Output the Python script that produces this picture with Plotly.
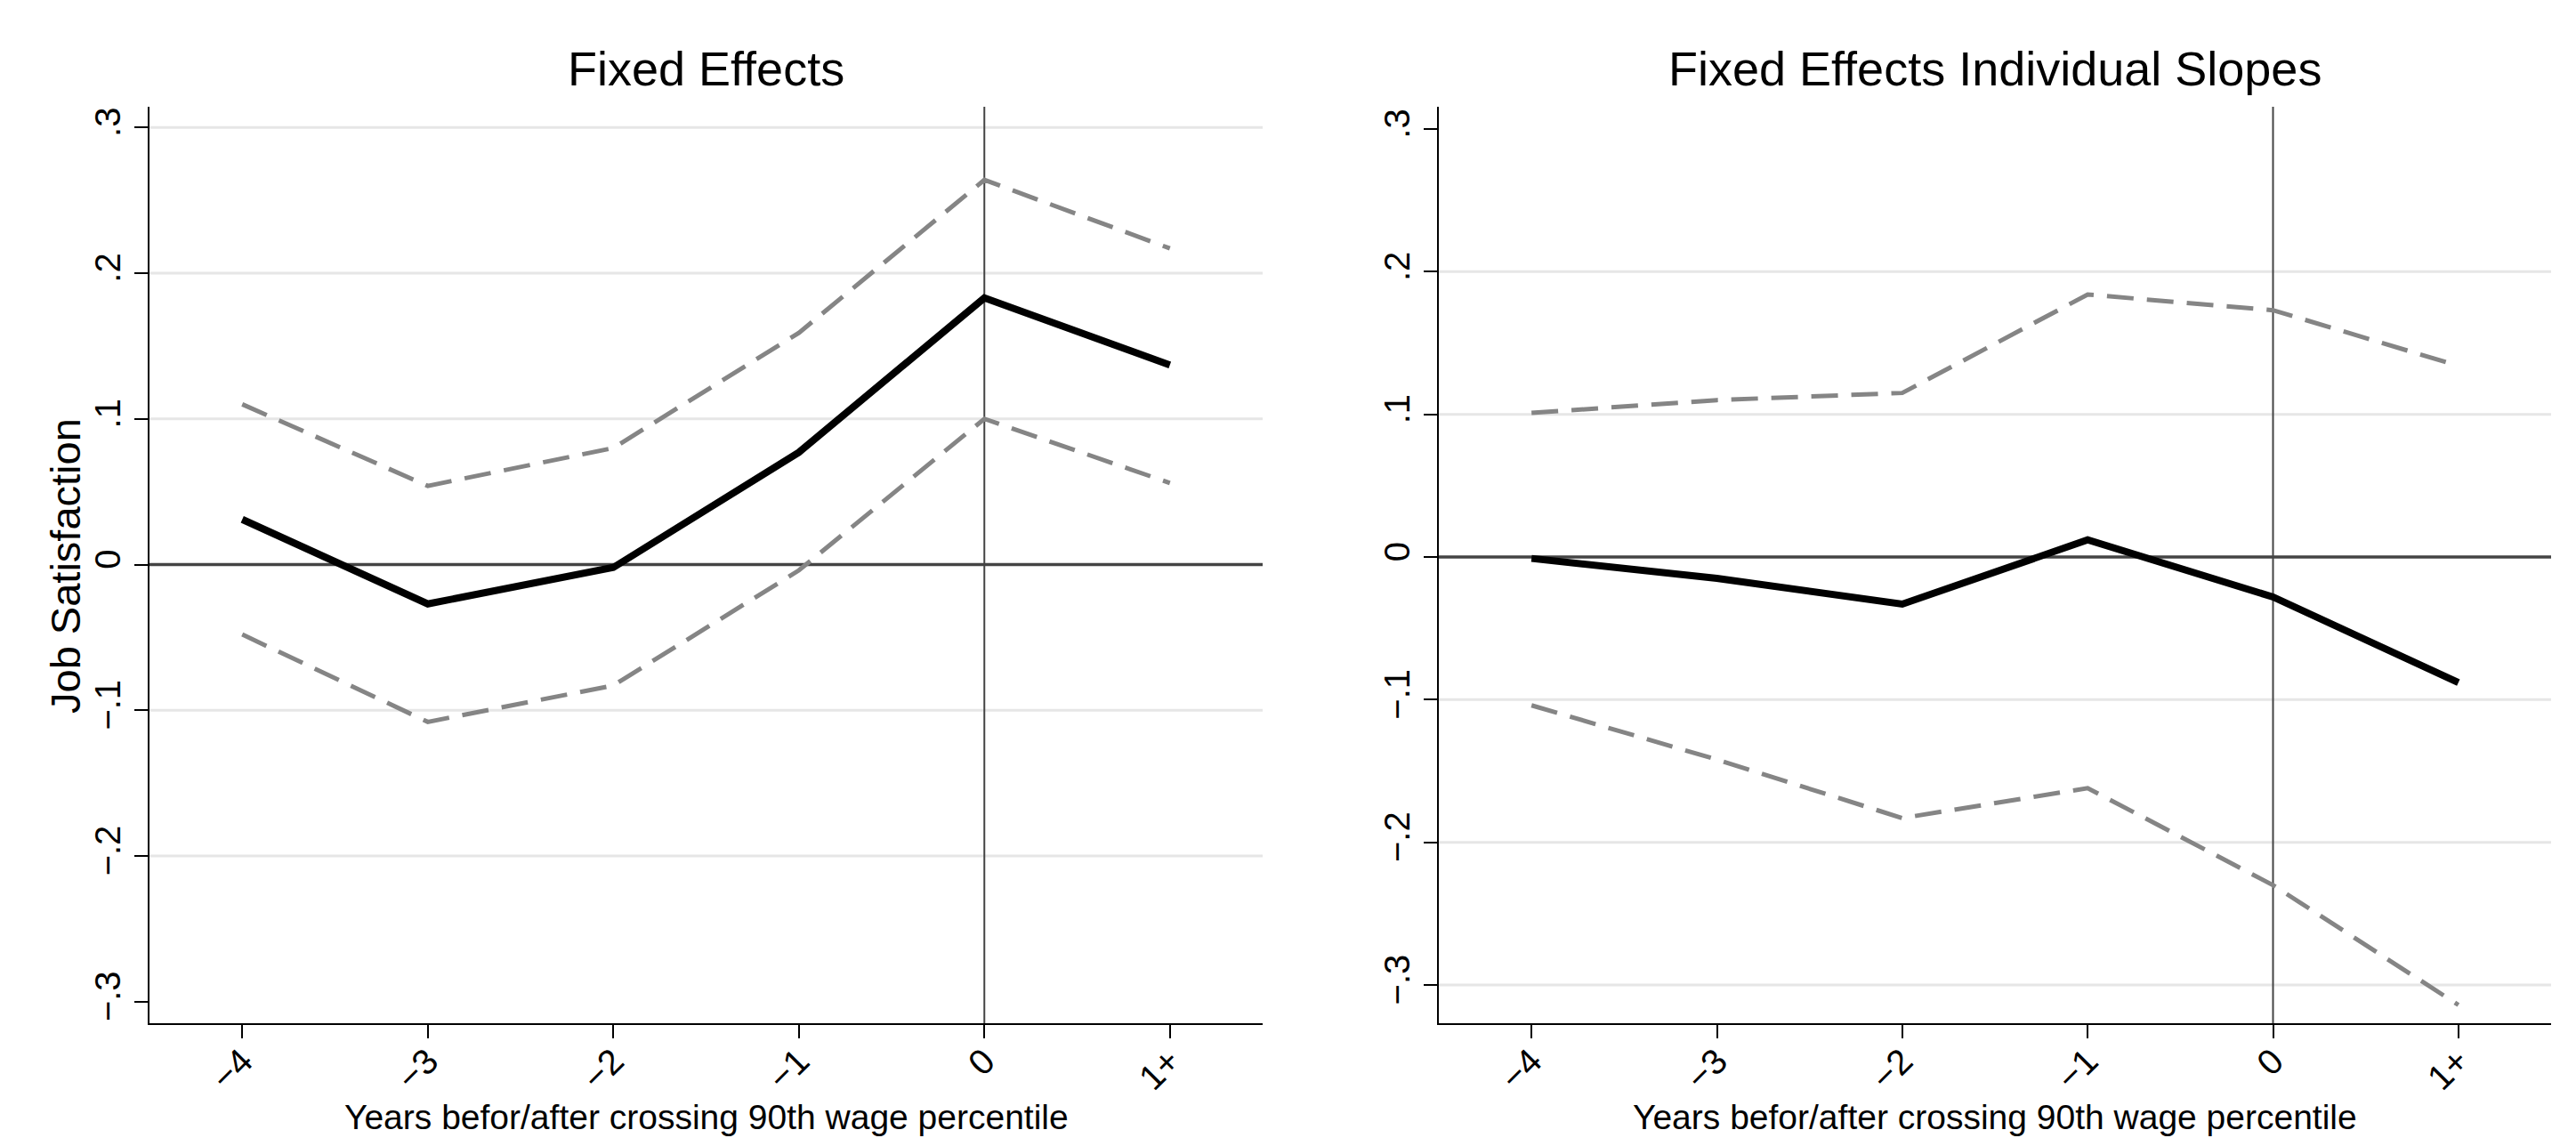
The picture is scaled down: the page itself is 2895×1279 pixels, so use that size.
import plotly.graph_objects as go

# ---------------- data ----------------
categories = ["\u22124", "\u22123", "\u22122", "\u22121", "0", "1+"]

fe_coef = [0.031, -0.027, -0.002, 0.077, 0.183, 0.137]
fe_upper = [0.110, 0.054, 0.080, 0.159, 0.264, 0.217]
fe_lower = [-0.048, -0.108, -0.083, -0.004, 0.100, 0.056]

fis_coef = [-0.001, -0.015, -0.033, 0.012, -0.028, -0.088]
fis_upper = [0.101, 0.110, 0.115, 0.184, 0.173, 0.134]
fis_lower = [-0.104, -0.142, -0.183, -0.162, -0.230, -0.314]

ytick_vals = [-0.3, -0.2, -0.1, 0, 0.1, 0.2, 0.3]
ytick_text = ["\u2212.3", "\u2212.2", "\u2212.1", "0", ".1", ".2", ".3"]

titles = ["Fixed Effects", "Fixed Effects Individual Slopes"]
xtitle = "Years befor/after crossing 90th wage percentile"
ytitle = "Job Satisfaction"

left_grid = [0.3, 0.2, 0.1, -0.1, -0.2]
right_grid = [0.2, 0.1, -0.1, -0.2, -0.3]

# ---------------- figure ----------------
W, H = 2895, 1279
FONT = "Liberation Sans, Arial, Helvetica, sans-serif"
fig = go.Figure()

panels = [
    dict(coef=fe_coef, up=fe_upper, lo=fe_lower, xa="x", ya="y",
         dom=[168 / W, 1419 / W], yr=[-0.3148, 0.3142], grid=left_grid),
    dict(coef=fis_coef, up=fis_upper, lo=fis_lower, xa="x2", ya="y2",
         dom=[1617 / W, 2867 / W], yr=[-0.3268, 0.3156], grid=right_grid),
]

ydom = [1 - 1150 / H, 1 - 120 / H]
dash_col = "#858585"

for i, p in enumerate(panels):
    for series, col, wid, dash in [(p["up"], dash_col, 5, "30px,15px"),
                                   (p["lo"], dash_col, 5, "30px,15px"),
                                   (p["coef"], "black", 8, "solid")]:
        fig.add_trace(go.Scatter(x=categories, y=series, mode="lines",
                                 line=dict(color=col, width=wid, dash=dash),
                                 xaxis=p["xa"], yaxis=p["ya"], showlegend=False,
                                 hoverinfo="skip"))
    sfx = "" if i == 0 else "2"
    ax_common = dict(showline=True, linecolor="black", linewidth=2,
                     ticks="outside", ticklen=15, tickwidth=2, tickcolor="black",
                     showgrid=False, zeroline=False, mirror=False,
                     tickfont=dict(family=FONT, size=40, color="black"))
    fig.update_layout(**{
        "xaxis" + sfx: dict(domain=p["dom"], anchor="y" + sfx, type="category",
                            categoryorder="array", categoryarray=categories,
                            range=[-0.5, 5.5], tickangle=-45, ticklabelstandoff=-14,
                            **ax_common),
        "yaxis" + sfx: dict(domain=ydom, anchor="x" + sfx, range=p["yr"],
                            tickvals=ytick_vals, ticktext=ytick_text,
                            tickangle=-90, **ax_common),
    })
    xr = p["xa"]
    yr = p["ya"]
    for g in p["grid"]:
        fig.add_shape(type="line", xref=xr + " domain", yref=yr, x0=0, x1=1, y0=g, y1=g,
                      line=dict(color="#e6e6e6", width=3), layer="below")
    fig.add_shape(type="line", xref=xr + " domain", yref=yr, x0=0, x1=1, y0=0, y1=0,
                  line=dict(color="#444444", width=3.5), layer="below")
    zx = categories.index("0")
    fig.add_shape(type="line", xref=xr, yref=yr + " domain", x0=zx, x1=zx, y0=0, y1=1,
                  line=dict(color="#444444", width=2), layer="below")
    cx = (p["dom"][0] + p["dom"][1]) / 2
    fig.add_annotation(text=titles[i], xref="paper", yref="paper", x=cx, y=1 - 77 / H,
                       xanchor="center", yanchor="middle", showarrow=False,
                       font=dict(family=FONT, size=54, color="black"))
    fig.add_annotation(text=xtitle, xref="paper", yref="paper", x=cx, y=1 - 1255 / H,
                       xanchor="center", yanchor="middle", showarrow=False,
                       font=dict(family=FONT, size=39, color="black"))

fig.add_annotation(text=ytitle, xref="paper", yref="paper", x=73 / W, y=1 - 636 / H,
                   xanchor="center", yanchor="middle", textangle=-90, showarrow=False,
                   font=dict(family=FONT, size=47, color="black"))

fig.update_layout(width=W, height=H, margin=dict(l=0, r=0, t=0, b=0),
                  paper_bgcolor="white", plot_bgcolor="white",
                  font=dict(family=FONT, color="black"))

fig.write_html("out.html", config={"displayModeBar": False},
               post_script="document.body.style.margin='0';document.body.style.padding='0';")
